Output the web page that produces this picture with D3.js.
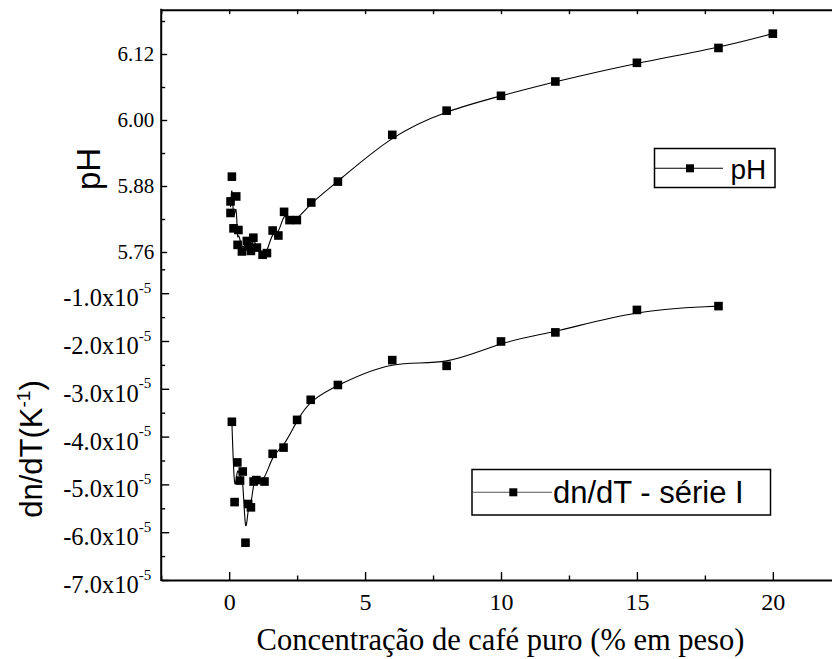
<!DOCTYPE html>
<html>
<head>
<meta charset="utf-8">
<script src="https://cdn.jsdelivr.net/npm/d3@7"></script>
<style>
  html, body { margin: 0; padding: 0; background: #fff; overflow: hidden; }
  svg { display: block; }
</style>
</head>
<body>
<svg id="chart" width="832" height="659"></svg>
<script>
// Coffee concentration (% by weight) and measured pH
const concPH = [0.05, 0.05, 0.10, 0.16, 0.26, 0.31, 0.34, 0.47, 0.65, 0.71, 0.80, 0.89, 1.02, 1.23, 1.39,
                1.60, 1.81, 2.02, 2.22, 2.49, 3.02, 4.0, 6.0, 8.0, 10.0, 12.0, 15.0, 18.0, 20.0];
const pHValues = [5.852, 5.831, 5.897, 5.803, 5.861, 5.773, 5.800, 5.761, 5.780, 5.770, 5.762, 5.786, 5.768, 5.755, 5.758,
                  5.799, 5.790, 5.833, 5.818, 5.818, 5.850, 5.888, 5.973, 6.017, 6.044, 6.070, 6.104, 6.131, 6.157];

// Coffee concentration (% by weight) and thermo-optical coefficient dn/dT (1/K), series I
const concDn = [0.10, 0.20, 0.30, 0.40, 0.50, 0.60, 0.70, 0.80, 0.90, 1.00, 1.30, 1.60, 2.00, 2.50, 3.00,
                4.00, 6.00, 8.00, 10.0, 12.0, 15.0, 18.0];
const dnValues = [-3.69e-5, -5.37e-5, -4.54e-5, -4.92e-5, -4.73e-5, -6.22e-5, -5.41e-5, -5.48e-5, -4.94e-5, -4.91e-5,
                  -4.94e-5, -4.36e-5, -4.23e-5, -3.65e-5, -3.23e-5, -2.92e-5, -2.40e-5, -2.52e-5, -2.01e-5, -1.82e-5,
                  -1.35e-5, -1.27e-5];

// Tick values and labels
const xMajorTicks = [0, 5, 10, 15, 20];
const xMinorTicks = [-2.5, 2.5, 7.5, 12.5, 17.5, 22.5];
const pHMajorTicks = [5.76, 5.88, 6.00, 6.12];
const pHMinorTicks = [5.82, 5.94, 6.06, 6.18];
const dnMajorTicks = [-7e-5, -6e-5, -5e-5, -4e-5, -3e-5, -2e-5, -1e-5];
const dnMinorTicks = [-6.5e-5, -5.5e-5, -4.5e-5, -3.5e-5, -2.5e-5, -1.5e-5, -0.5e-5];
const dnTickMantissa = ["-7.0", "-6.0", "-5.0", "-4.0", "-3.0", "-2.0", "-1.0"];
const dnTickExponent = "-5";

const serif = "'Liberation Serif', 'Times New Roman', serif";
const sans = "'Liberation Sans', Arial, sans-serif";

const svg = d3.select("#chart");

const x = d3.scaleLinear().domain([-2.5, 22.5]).range([161.2, 840.8]);
const yPH = d3.scaleLinear().domain([5.72, 6.20]).range([274, 10]);
const yDn = d3.scaleLinear().domain([-7e-5, -0.5e-5]).range([580, 269.3]);

const axisTop = 9.7, axisBottom = 580;

function styleAxis(g, width) {
  g.selectAll("path.domain").attr("stroke", "#000").attr("stroke-width", width);
  g.selectAll(".tick line").attr("stroke", "#000").attr("stroke-width", 1.4);
}

// Top axis: inward ticks only
svg.append("g")
  .attr("transform", `translate(0,${axisTop})`)
  .call(d3.axisTop(x).tickValues([...xMajorTicks, ...xMinorTicks]).tickSizeInner(-4.5).tickSizeOuter(0).tickFormat(""))
  .call(g => styleAxis(g, 2));

// Bottom axis: major ticks with labels, minor ticks inward
svg.append("g")
  .attr("transform", `translate(0,${axisBottom})`)
  .call(d3.axisBottom(x).tickValues(xMinorTicks).tickSizeInner(-4.5).tickSizeOuter(0).tickFormat(""))
  .call(g => styleAxis(g, 2));
svg.append("g")
  .attr("transform", `translate(0,${axisBottom})`)
  .call(d3.axisBottom(x).tickValues(xMajorTicks).tickSizeInner(-8).tickSizeOuter(0).tickPadding(13).tickFormat(d3.format("d")))
  .call(g => g.select("path.domain").remove())
  .call(g => styleAxis(g, 2))
  .call(g => g.selectAll("text").attr("fill", "#000").attr("font-family", serif).attr("font-size", 24));

// Left axis: one continuous spine shared by both layers
const xLeft = x.range()[0];
svg.append("line")
  .attr("x1", xLeft).attr("x2", xLeft)
  .attr("y1", axisTop - 1).attr("y2", axisBottom + 1)
  .attr("stroke", "#000").attr("stroke-width", 2);

// pH layer ticks
svg.append("g")
  .attr("transform", `translate(${xLeft},0)`)
  .call(d3.axisLeft(yPH).tickValues(pHMinorTicks).tickSizeInner(-4).tickSizeOuter(0).tickFormat(""))
  .call(g => g.select("path.domain").remove())
  .call(g => styleAxis(g, 2));
svg.append("g")
  .attr("transform", `translate(${xLeft},0)`)
  .call(d3.axisLeft(yPH).tickValues(pHMajorTicks).tickSizeInner(-6).tickSizeOuter(0).tickPadding(7).tickFormat(d3.format(".2f")))
  .call(g => g.select("path.domain").remove())
  .call(g => styleAxis(g, 2))
  .call(g => g.selectAll("text").attr("fill", "#000").attr("font-family", serif).attr("font-size", 21));

// dn/dT layer ticks
svg.append("g")
  .attr("transform", `translate(${xLeft},0)`)
  .call(d3.axisLeft(yDn).tickValues(dnMinorTicks).tickSizeInner(-4).tickSizeOuter(0).tickFormat(""))
  .call(g => g.select("path.domain").remove())
  .call(g => styleAxis(g, 2));
const dnAxis = svg.append("g")
  .attr("transform", `translate(${xLeft},0)`)
  .call(d3.axisLeft(yDn).tickValues(dnMajorTicks).tickSizeInner(-8).tickSizeOuter(0).tickPadding(10).tickFormat(""))
  .call(g => g.select("path.domain").remove())
  .call(g => styleAxis(g, 2));
// scientific labels with superscript exponent
dnAxis.selectAll(".tick").each(function(d, i) {
  const t = d3.select(this).append("text")
    .attr("x", -10).attr("y", 12.5)
    .attr("text-anchor", "end")
    .attr("fill", "#000")
    .attr("font-family", serif)
    .attr("font-size", 24.5);
  t.append("tspan").text(dnTickMantissa[i] + "x10");
  t.append("tspan").attr("font-size", 15).attr("dy", -13.5).text(dnTickExponent);
});

// Axis titles
svg.append("text")
  .attr("transform", "translate(100,169) rotate(-90)")
  .attr("text-anchor", "middle")
  .attr("font-family", sans).attr("font-size", 33).attr("fill", "#000")
  .text("pH");

const dnTitle = svg.append("text")
  .attr("transform", "translate(42,449) rotate(-90)")
  .attr("text-anchor", "middle")
  .attr("font-family", sans).attr("font-size", 31).attr("fill", "#000");
dnTitle.append("tspan").text("dn/dT(K");
dnTitle.append("tspan").attr("font-size", 19).attr("dy", -12).text("-1");
dnTitle.append("tspan").attr("dy", 12).text(")");

svg.append("text")
  .attr("x", 500.5).attr("y", 650)
  .attr("text-anchor", "middle")
  .attr("font-family", serif).attr("font-size", 30.5).attr("fill", "#000")
  .text("Concentração de café puro (% em peso)");

// Series: B-spline through the points, square markers
const pHData = concPH.map((c, i) => ({ x: c, y: pHValues[i] }));
const dnData = concDn.map((c, i) => ({ x: c, y: dnValues[i] }));
const markerSize = 8.6;

function drawSeries(data, yScale) {
  const line = d3.line().x(d => x(d.x)).y(d => yScale(d.y)).curve(d3.curveBasis);
  svg.append("path")
    .datum(data)
    .attr("d", line)
    .attr("fill", "none")
    .attr("stroke", "#000")
    .attr("stroke-width", 1.1);
  svg.append("g").selectAll("rect")
    .data(data)
    .join("rect")
    .attr("x", d => x(d.x) - markerSize / 2)
    .attr("y", d => yScale(d.y) - markerSize / 2)
    .attr("width", markerSize).attr("height", markerSize)
    .attr("fill", "#000");
}
drawSeries(pHData, yPH);
drawSeries(dnData, yDn);

// Legends
function legend(box, lineEnds, lineY, markX, label, textX, textY, fontSize, lineColor) {
  const g = svg.append("g");
  g.append("rect")
    .attr("x", box[0]).attr("y", box[1]).attr("width", box[2]).attr("height", box[3])
    .attr("fill", "#fff").attr("stroke", "#000").attr("stroke-width", 1.5);
  g.append("line")
    .attr("x1", lineEnds[0]).attr("x2", lineEnds[1]).attr("y1", lineY).attr("y2", lineY)
    .attr("stroke", lineColor).attr("stroke-width", 1.1);
  g.append("rect")
    .attr("x", markX - 4).attr("y", lineY - 4).attr("width", 8).attr("height", 8)
    .attr("fill", "#000");
  g.append("text")
    .attr("x", textX).attr("y", textY)
    .attr("font-family", sans).attr("font-size", fontSize).attr("fill", "#000")
    .text(label);
}
legend([654.5, 148.5, 120.5, 39], [655, 723], 168.3, 690, "pH", 730.5, 178.5, 28, "#000");
legend([472, 469.5, 298.5, 45.5], [473, 552], 492.3, 513.3, "dn/dT - série I", 553, 503, 31, "#555");
</script>
</body>
</html>
